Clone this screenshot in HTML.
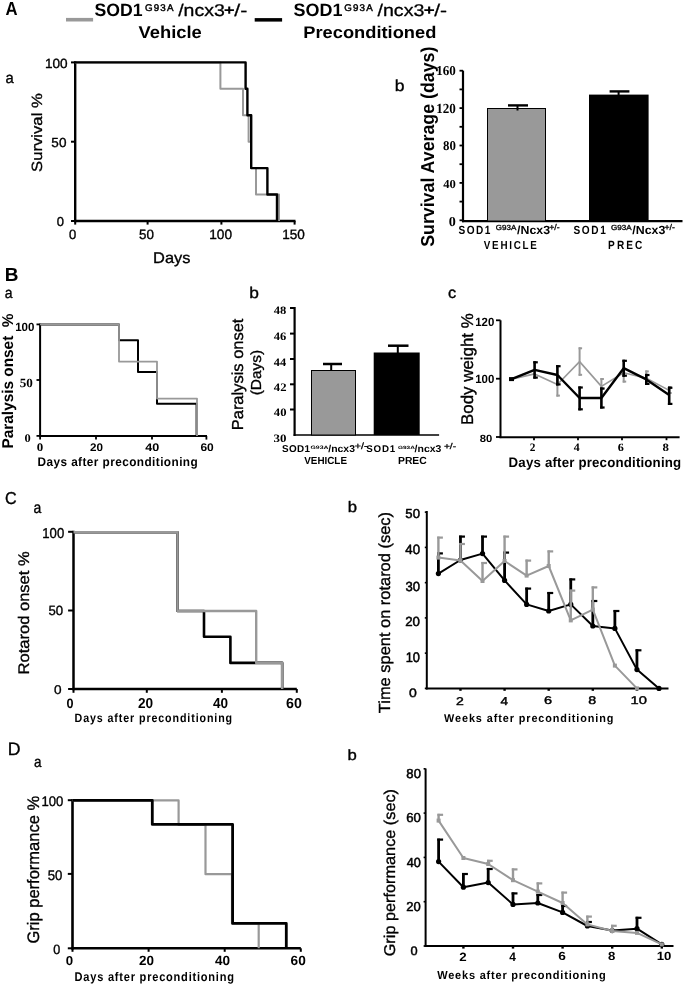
<!DOCTYPE html>
<html><head><meta charset="utf-8"><style>
html,body{margin:0;padding:0;background:#fff;}
body{width:685px;height:986px;overflow:hidden;font-family:"Liberation Sans",sans-serif;}
svg{display:block;filter:blur(0.35px);}
text{text-rendering:geometricPrecision;}
</style></head><body>
<svg width="685" height="986" viewBox="0 0 685 986">
<rect x="0" y="0" width="685" height="986" fill="#fff"/>
<text xml:space="preserve" transform="translate(5.58,14.60) scale(0.8909,1)" style="font-family:'Liberation Sans', sans-serif;font-weight:bold;font-size:18.76px" fill="#000">A</text>
<rect x="66.00" y="17.90" width="27.10" height="3.60" fill="#999999"/>
<text xml:space="preserve" transform="translate(94.57,16.42) scale(0.9846,1)" style="font-family:'Liberation Sans', sans-serif;font-weight:bold;font-size:17.95px" fill="#000">SOD1</text>
<text xml:space="preserve" transform="translate(144.91,10.70) scale(1.0000,1)" style="font-family:'Liberation Sans', sans-serif;font-weight:normal;font-size:9.75px;letter-spacing:1.19px;stroke:#000;stroke-width:0.45px;stroke-linejoin:round" fill="#000">G93A</text>
<text xml:space="preserve" transform="translate(178.20,16.13) scale(1.1472,1)" style="font-family:'Liberation Sans', sans-serif;font-weight:normal;font-size:17.01px;stroke:#000;stroke-width:0.31px;stroke-linejoin:round" fill="#000">/ncx3</text>
<text xml:space="preserve" transform="translate(223.80,15.17) scale(1.2893,1)" style="font-family:'Liberation Sans', sans-serif;font-weight:bold;font-size:14.58px" fill="#000">+</text>
<text xml:space="preserve" transform="translate(234.20,16.13) scale(1.2593,1)" style="font-family:'Liberation Sans', sans-serif;font-weight:normal;font-size:17.01px;stroke:#000;stroke-width:0.28px;stroke-linejoin:round" fill="#000">/-</text>
<text xml:space="preserve" transform="translate(138.56,38.13) scale(1.0707,1)" style="font-family:'Liberation Sans', sans-serif;font-weight:bold;font-size:17.14px" fill="#000">Vehicle</text>
<rect x="254.70" y="18.10" width="27.40" height="3.50" fill="#000"/>
<text xml:space="preserve" transform="translate(293.56,16.42) scale(1.0013,1)" style="font-family:'Liberation Sans', sans-serif;font-weight:bold;font-size:17.95px" fill="#000">SOD1</text>
<text xml:space="preserve" transform="translate(344.21,10.80) scale(1.0000,1)" style="font-family:'Liberation Sans', sans-serif;font-weight:normal;font-size:9.75px;letter-spacing:1.19px;stroke:#000;stroke-width:0.45px;stroke-linejoin:round" fill="#000">G93A</text>
<text xml:space="preserve" transform="translate(377.50,16.13) scale(1.1522,1)" style="font-family:'Liberation Sans', sans-serif;font-weight:normal;font-size:17.01px;stroke:#000;stroke-width:0.30px;stroke-linejoin:round" fill="#000">/ncx3</text>
<text xml:space="preserve" transform="translate(423.48,15.17) scale(1.3305,1)" style="font-family:'Liberation Sans', sans-serif;font-weight:bold;font-size:14.58px" fill="#000">+</text>
<text xml:space="preserve" transform="translate(434.20,16.13) scale(1.2384,1)" style="font-family:'Liberation Sans', sans-serif;font-weight:normal;font-size:17.01px;stroke:#000;stroke-width:0.28px;stroke-linejoin:round" fill="#000">/-</text>
<text xml:space="preserve" transform="translate(303.27,38.43) scale(1.0843,1)" style="font-family:'Liberation Sans', sans-serif;font-weight:bold;font-size:16.87px" fill="#000">Preconditioned</text>
<text xml:space="preserve" transform="translate(5.47,82.65) scale(0.9666,1)" style="font-family:'Liberation Sans', sans-serif;font-weight:normal;font-size:15.34px;stroke:#000;stroke-width:0.36px;stroke-linejoin:round" fill="#000">a</text>
<line x1="75.20" y1="61.20" x2="75.20" y2="222.20" stroke="#000" stroke-width="2.40"/>
<line x1="74.00" y1="221.00" x2="295.50" y2="221.00" stroke="#000" stroke-width="2.40"/>
<line x1="71.00" y1="62.40" x2="75.20" y2="62.40" stroke="#000" stroke-width="2.00"/>
<line x1="71.00" y1="141.70" x2="75.20" y2="141.70" stroke="#000" stroke-width="2.00"/>
<line x1="71.00" y1="221.00" x2="75.20" y2="221.00" stroke="#000" stroke-width="2.00"/>
<line x1="75.20" y1="221.00" x2="75.20" y2="224.60" stroke="#000" stroke-width="2.00"/>
<line x1="147.60" y1="221.00" x2="147.60" y2="224.60" stroke="#000" stroke-width="2.00"/>
<line x1="221.40" y1="221.00" x2="221.40" y2="224.60" stroke="#000" stroke-width="2.00"/>
<line x1="294.60" y1="221.00" x2="294.60" y2="224.60" stroke="#000" stroke-width="2.00"/>
<text xml:space="preserve" transform="translate(44.88,68.07) scale(1.0213,1)" style="font-family:'Liberation Sans', sans-serif;font-weight:normal;font-size:13.29px;stroke:#000;stroke-width:0.34px;stroke-linejoin:round" fill="#000">100</text>
<text xml:space="preserve" transform="translate(51.36,146.57) scale(1.0315,1)" style="font-family:'Liberation Sans', sans-serif;font-weight:normal;font-size:13.14px;stroke:#000;stroke-width:0.34px;stroke-linejoin:round" fill="#000">50</text>
<text xml:space="preserve" transform="translate(56.78,226.17) scale(1.0095,1)" style="font-family:'Liberation Sans', sans-serif;font-weight:normal;font-size:12.86px;stroke:#000;stroke-width:0.35px;stroke-linejoin:round" fill="#000">0</text>
<text xml:space="preserve" transform="translate(68.88,239.07) scale(0.9670,1)" style="font-family:'Liberation Sans', sans-serif;font-weight:normal;font-size:13.43px;stroke:#000;stroke-width:0.36px;stroke-linejoin:round" fill="#000">0</text>
<text xml:space="preserve" transform="translate(138.97,239.17) scale(0.9954,1)" style="font-family:'Liberation Sans', sans-serif;font-weight:normal;font-size:13.43px;stroke:#000;stroke-width:0.35px;stroke-linejoin:round" fill="#000">50</text>
<text xml:space="preserve" transform="translate(209.17,239.16) scale(1.0095,1)" style="font-family:'Liberation Sans', sans-serif;font-weight:normal;font-size:13.57px;stroke:#000;stroke-width:0.35px;stroke-linejoin:round" fill="#000">100</text>
<text xml:space="preserve" transform="translate(282.18,239.16) scale(1.0000,1)" style="font-family:'Liberation Sans', sans-serif;font-weight:normal;font-size:13.57px;stroke:#000;stroke-width:0.35px;stroke-linejoin:round" fill="#000">150</text>
<text xml:space="preserve" transform="translate(153.04,262.80) scale(1.0601,1)" style="font-family:'Liberation Sans', sans-serif;font-weight:normal;font-size:15.50px;stroke:#000;stroke-width:0.33px;stroke-linejoin:round" fill="#000">Days</text>
<text xml:space="preserve" transform="translate(42.45,171.95) rotate(-90) scale(1.1242,1)" style="font-family:'Liberation Sans', sans-serif;font-weight:normal;font-size:14.83px;stroke:#000;stroke-width:0.31px;stroke-linejoin:round" fill="#000">Survival %</text>
<path d="M75.00,62.40 L220.40,62.40 L220.40,88.80 L243.00,88.80 L243.00,115.30 L248.60,115.30 L248.60,141.70 L251.00,141.70 L251.00,168.10 L256.00,168.10 L256.00,194.50 L279.00,194.50 L279.00,221.00" fill="none" stroke="#999999" stroke-width="2.00" stroke-linejoin="round" stroke-linecap="butt"/>
<path d="M75.00,62.40 L245.60,62.40 L245.60,88.80 L247.40,88.80 L247.40,115.30 L251.20,115.30 L251.20,168.10 L267.40,168.10 L267.40,194.50 L277.00,194.50 L277.00,221.00" fill="none" stroke="#000" stroke-width="2.40" stroke-linejoin="round" stroke-linecap="butt"/>
<text xml:space="preserve" transform="translate(394.66,90.64) scale(1.1028,1)" style="font-family:'Liberation Sans', sans-serif;font-weight:normal;font-size:15.92px;stroke:#000;stroke-width:0.36px;stroke-linejoin:round" fill="#000">b</text>
<text xml:space="preserve" transform="translate(433.50,246.83) rotate(-90) scale(0.9502,1)" style="font-family:'Liberation Sans', sans-serif;font-weight:bold;font-size:18.72px" fill="#000">Survival Average (days)</text>
<line x1="463.00" y1="70.60" x2="463.00" y2="222.20" stroke="#000" stroke-width="2.20"/>
<line x1="462.00" y1="221.10" x2="682.50" y2="221.10" stroke="#000" stroke-width="2.20"/>
<line x1="459.50" y1="220.30" x2="463.00" y2="220.30" stroke="#000" stroke-width="1.80"/>
<line x1="459.50" y1="201.60" x2="463.00" y2="201.60" stroke="#000" stroke-width="1.80"/>
<line x1="459.50" y1="182.90" x2="463.00" y2="182.90" stroke="#000" stroke-width="1.80"/>
<line x1="459.50" y1="164.20" x2="463.00" y2="164.20" stroke="#000" stroke-width="1.80"/>
<line x1="459.50" y1="145.50" x2="463.00" y2="145.50" stroke="#000" stroke-width="1.80"/>
<line x1="459.50" y1="126.80" x2="463.00" y2="126.80" stroke="#000" stroke-width="1.80"/>
<line x1="459.50" y1="108.10" x2="463.00" y2="108.10" stroke="#000" stroke-width="1.80"/>
<line x1="459.50" y1="89.40" x2="463.00" y2="89.40" stroke="#000" stroke-width="1.80"/>
<line x1="459.50" y1="70.70" x2="463.00" y2="70.70" stroke="#000" stroke-width="1.80"/>
<text xml:space="preserve" transform="translate(436.25,75.37) scale(0.9711,1)" style="font-family:'Liberation Serif', serif;font-weight:bold;font-size:13.48px" fill="#000">160</text>
<text xml:space="preserve" transform="translate(436.25,113.26) scale(0.9401,1)" style="font-family:'Liberation Serif', serif;font-weight:bold;font-size:13.93px" fill="#000">120</text>
<text xml:space="preserve" transform="translate(442.98,150.37) scale(0.9571,1)" style="font-family:'Liberation Serif', serif;font-weight:bold;font-size:13.48px" fill="#000">80</text>
<text xml:space="preserve" transform="translate(443.24,188.28) scale(1.0398,1)" style="font-family:'Liberation Serif', serif;font-weight:bold;font-size:12.15px" fill="#000">40</text>
<text xml:space="preserve" transform="translate(448.87,225.76) scale(1.0358,1)" style="font-family:'Liberation Serif', serif;font-weight:bold;font-size:13.63px" fill="#000">0</text>
<rect x="487.50" y="108.50" width="58.00" height="112.50" fill="#999999" stroke="#000" stroke-width="1.00"/>
<line x1="508.00" y1="105.40" x2="528.00" y2="105.40" stroke="#000" stroke-width="2.40"/>
<line x1="517.50" y1="105.40" x2="517.50" y2="110.50" stroke="#000" stroke-width="2.00"/>
<rect x="589.00" y="94.60" width="59.60" height="126.40" fill="#000"/>
<line x1="609.60" y1="91.40" x2="629.40" y2="91.40" stroke="#000" stroke-width="2.40"/>
<line x1="618.60" y1="91.40" x2="618.60" y2="95.00" stroke="#000" stroke-width="2.00"/>
<text xml:space="preserve" transform="translate(458.60,233.88) scale(0.8500,1)" style="font-family:'Liberation Sans', sans-serif;font-weight:bold;font-size:11.87px;letter-spacing:1.65px" fill="#000">SOD1</text>
<text xml:space="preserve" transform="translate(495.80,229.53) scale(1.0917,1)" style="font-family:'Liberation Sans', sans-serif;font-weight:normal;font-size:7.35px;stroke:#000;stroke-width:0.32px;stroke-linejoin:round" fill="#000">G93A</text>
<text xml:space="preserve" transform="translate(517.08,233.76) scale(1.0459,1)" style="font-family:'Liberation Sans', sans-serif;font-weight:bold;font-size:11.81px" fill="#000">/Ncx3</text>
<text xml:space="preserve" transform="translate(549.16,230.42) scale(1.0516,1)" style="font-family:'Liberation Sans', sans-serif;font-weight:normal;font-size:8.30px;stroke:#000;stroke-width:0.33px;stroke-linejoin:round" fill="#000">+/-</text>
<text xml:space="preserve" transform="translate(483.83,248.78) scale(0.8500,1)" style="font-family:'Liberation Sans', sans-serif;font-weight:bold;font-size:11.59px;letter-spacing:2.03px" fill="#000">VEHICLE</text>
<text xml:space="preserve" transform="translate(573.50,233.88) scale(0.8500,1)" style="font-family:'Liberation Sans', sans-serif;font-weight:bold;font-size:11.87px;letter-spacing:1.92px" fill="#000">SOD1</text>
<text xml:space="preserve" transform="translate(611.00,229.53) scale(1.0972,1)" style="font-family:'Liberation Sans', sans-serif;font-weight:normal;font-size:7.35px;stroke:#000;stroke-width:0.32px;stroke-linejoin:round" fill="#000">G93A</text>
<text xml:space="preserve" transform="translate(632.28,233.76) scale(1.0492,1)" style="font-family:'Liberation Sans', sans-serif;font-weight:bold;font-size:11.81px" fill="#000">/Ncx3</text>
<text xml:space="preserve" transform="translate(664.46,230.42) scale(1.0516,1)" style="font-family:'Liberation Sans', sans-serif;font-weight:normal;font-size:8.30px;stroke:#000;stroke-width:0.33px;stroke-linejoin:round" fill="#000">+/-</text>
<text xml:space="preserve" transform="translate(608.12,249.28) scale(0.8500,1)" style="font-family:'Liberation Sans', sans-serif;font-weight:bold;font-size:11.87px;letter-spacing:2.44px" fill="#000">PREC</text>
<text xml:space="preserve" transform="translate(4.82,280.80) scale(0.9980,1)" style="font-family:'Liberation Sans', sans-serif;font-weight:bold;font-size:19.05px" fill="#000">B</text>
<text xml:space="preserve" transform="translate(4.70,298.25) scale(0.9157,1)" style="font-family:'Liberation Sans', sans-serif;font-weight:normal;font-size:15.34px;stroke:#000;stroke-width:0.33px;stroke-linejoin:round" fill="#000">a</text>
<text xml:space="preserve" transform="translate(12.80,448.44) rotate(-90) scale(0.9831,1)" style="font-family:'Liberation Sans', sans-serif;font-weight:bold;font-size:15.64px" fill="#000">Paralysis onset  %</text>
<line x1="40.10" y1="323.60" x2="40.10" y2="436.80" stroke="#000" stroke-width="2.00"/>
<line x1="39.10" y1="435.90" x2="207.00" y2="435.90" stroke="#000" stroke-width="2.00"/>
<line x1="36.50" y1="324.40" x2="40.10" y2="324.40" stroke="#000" stroke-width="1.80"/>
<line x1="36.50" y1="380.00" x2="40.10" y2="380.00" stroke="#000" stroke-width="1.80"/>
<line x1="36.50" y1="435.90" x2="40.10" y2="435.90" stroke="#000" stroke-width="1.80"/>
<line x1="40.10" y1="435.90" x2="40.10" y2="439.60" stroke="#000" stroke-width="1.80"/>
<line x1="96.00" y1="435.90" x2="96.00" y2="439.60" stroke="#000" stroke-width="1.80"/>
<line x1="152.00" y1="435.90" x2="152.00" y2="439.60" stroke="#000" stroke-width="1.80"/>
<line x1="206.40" y1="435.90" x2="206.40" y2="439.60" stroke="#000" stroke-width="1.80"/>
<text xml:space="preserve" transform="translate(15.18,330.68) scale(0.9741,1)" style="font-family:'Liberation Sans', sans-serif;font-weight:bold;font-size:11.87px" fill="#000">100</text>
<text xml:space="preserve" transform="translate(19.68,386.58) scale(1.0540,1)" style="font-family:'Liberation Serif', serif;font-weight:bold;font-size:12.44px" fill="#000">50</text>
<text xml:space="preserve" transform="translate(24.43,442.18) scale(1.0522,1)" style="font-family:'Liberation Serif', serif;font-weight:bold;font-size:11.85px" fill="#000">0</text>
<text xml:space="preserve" transform="translate(36.71,451.38) scale(1.1199,1)" style="font-family:'Liberation Serif', serif;font-weight:bold;font-size:11.56px" fill="#000">0</text>
<text xml:space="preserve" transform="translate(89.99,451.39) scale(1.0604,1)" style="font-family:'Liberation Sans', sans-serif;font-weight:bold;font-size:11.02px" fill="#000">20</text>
<text xml:space="preserve" transform="translate(145.21,451.39) scale(1.1435,1)" style="font-family:'Liberation Sans', sans-serif;font-weight:bold;font-size:11.02px" fill="#000">40</text>
<text xml:space="preserve" transform="translate(200.45,451.39) scale(1.0893,1)" style="font-family:'Liberation Sans', sans-serif;font-weight:bold;font-size:11.02px" fill="#000">60</text>
<text xml:space="preserve" transform="translate(37.50,465.50) scale(0.9500,1)" style="font-family:'Liberation Sans', sans-serif;font-weight:bold;font-size:12.43px;letter-spacing:0.45px" fill="#000">Days after preconditioning</text>
<path d="M40.00,324.40 L119.00,324.40 L119.00,340.30 L138.00,340.30 L138.00,372.00 L157.00,372.00 L157.00,403.80 L196.60,403.80 L196.60,435.90" fill="none" stroke="#000" stroke-width="2.00" stroke-linejoin="round" stroke-linecap="butt"/>
<path d="M40.00,324.40 L119.00,324.40 L119.00,361.60 L157.00,361.60 L157.00,398.60 L197.00,398.60 L197.00,435.90" fill="none" stroke="#999999" stroke-width="1.80" stroke-linejoin="round" stroke-linecap="butt"/>
<text xml:space="preserve" transform="translate(249.37,298.04) scale(1.1175,1)" style="font-family:'Liberation Sans', sans-serif;font-weight:normal;font-size:15.51px;stroke:#000;stroke-width:0.36px;stroke-linejoin:round" fill="#000">b</text>
<text xml:space="preserve" transform="translate(242.90,430.26) rotate(-90) scale(1.0355,1)" style="font-family:'Liberation Sans', sans-serif;font-weight:normal;font-size:15.92px;stroke:#000;stroke-width:0.34px;stroke-linejoin:round" fill="#000">Paralysis onset</text>
<text xml:space="preserve" transform="translate(261.30,395.36) rotate(-90) scale(1.0620,1)" style="font-family:'Liberation Sans', sans-serif;font-weight:normal;font-size:14.53px;stroke:#000;stroke-width:0.33px;stroke-linejoin:round" fill="#000">(Days)</text>
<line x1="294.60" y1="307.00" x2="294.60" y2="436.00" stroke="#000" stroke-width="2.20"/>
<line x1="293.60" y1="435.00" x2="439.10" y2="435.00" stroke="#000" stroke-width="1.60"/>
<line x1="290.00" y1="308.00" x2="294.60" y2="308.00" stroke="#000" stroke-width="2.00"/>
<line x1="290.00" y1="333.60" x2="294.60" y2="333.60" stroke="#000" stroke-width="2.00"/>
<line x1="290.00" y1="359.00" x2="294.60" y2="359.00" stroke="#000" stroke-width="2.00"/>
<line x1="290.00" y1="384.30" x2="294.60" y2="384.30" stroke="#000" stroke-width="2.00"/>
<line x1="290.00" y1="409.50" x2="294.60" y2="409.50" stroke="#000" stroke-width="2.00"/>
<text xml:space="preserve" transform="translate(273.84,314.49) scale(1.1160,1)" style="font-family:'Liberation Serif', serif;font-weight:bold;font-size:11.26px" fill="#000">48</text>
<text xml:space="preserve" transform="translate(273.84,340.09) scale(1.1090,1)" style="font-family:'Liberation Serif', serif;font-weight:bold;font-size:11.30px" fill="#000">46</text>
<text xml:space="preserve" transform="translate(273.85,365.60) scale(1.0703,1)" style="font-family:'Liberation Serif', serif;font-weight:bold;font-size:11.56px" fill="#000">44</text>
<text xml:space="preserve" transform="translate(273.84,390.90) scale(1.1069,1)" style="font-family:'Liberation Serif', serif;font-weight:bold;font-size:11.47px" fill="#000">42</text>
<text xml:space="preserve" transform="translate(273.84,416.09) scale(1.1219,1)" style="font-family:'Liberation Serif', serif;font-weight:bold;font-size:11.26px" fill="#000">40</text>
<text xml:space="preserve" transform="translate(273.51,441.69) scale(1.1522,1)" style="font-family:'Liberation Serif', serif;font-weight:bold;font-size:11.26px" fill="#000">30</text>
<rect x="311.50" y="370.50" width="44.00" height="64.50" fill="#999999" stroke="#000" stroke-width="1.00"/>
<line x1="323.00" y1="364.00" x2="342.00" y2="364.00" stroke="#000" stroke-width="2.50"/>
<line x1="331.20" y1="364.00" x2="331.20" y2="370.50" stroke="#000" stroke-width="2.00"/>
<rect x="373.70" y="352.50" width="46.00" height="82.50" fill="#000"/>
<line x1="388.00" y1="345.70" x2="408.50" y2="345.70" stroke="#000" stroke-width="2.50"/>
<line x1="397.80" y1="345.70" x2="397.80" y2="353.00" stroke="#000" stroke-width="2.00"/>
<text xml:space="preserve" transform="translate(282.10,451.90) scale(1.0000,1)" style="font-family:'Liberation Sans', sans-serif;font-weight:bold;font-size:9.89px;letter-spacing:0.34px" fill="#000">SOD1</text>
<text xml:space="preserve" transform="translate(310.52,448.74) scale(1.4029,1)" style="font-family:'Liberation Sans', sans-serif;font-weight:bold;font-size:4.93px" fill="#000">G93A</text>
<text xml:space="preserve" transform="translate(328.30,451.80) scale(1.0509,1)" style="font-family:'Liberation Sans', sans-serif;font-weight:bold;font-size:9.93px" fill="#000">/ncx3</text>
<text xml:space="preserve" transform="translate(354.87,448.91) scale(1.1744,1)" style="font-family:'Liberation Sans', sans-serif;font-weight:normal;font-size:8.98px;stroke:#000;stroke-width:0.30px;stroke-linejoin:round" fill="#000">+/-</text>
<text xml:space="preserve" transform="translate(304.23,464.20) scale(0.9562,1)" style="font-family:'Liberation Sans', sans-serif;font-weight:bold;font-size:10.32px" fill="#000">VEHICLE</text>
<text xml:space="preserve" transform="translate(366.31,452.10) scale(1.0000,1)" style="font-family:'Liberation Sans', sans-serif;font-weight:bold;font-size:9.75px;letter-spacing:0.80px" fill="#000">SOD1</text>
<text xml:space="preserve" transform="translate(397.94,448.74) scale(1.3949,1)" style="font-family:'Liberation Sans', sans-serif;font-weight:bold;font-size:4.65px" fill="#000">G93A</text>
<text xml:space="preserve" transform="translate(414.60,451.80) scale(1.0549,1)" style="font-family:'Liberation Sans', sans-serif;font-weight:bold;font-size:9.93px" fill="#000">/ncx3</text>
<text xml:space="preserve" transform="translate(443.89,448.92) scale(1.2070,1)" style="font-family:'Liberation Sans', sans-serif;font-weight:normal;font-size:8.44px;stroke:#000;stroke-width:0.29px;stroke-linejoin:round" fill="#000">+/-</text>
<text xml:space="preserve" transform="translate(398.00,464.20) scale(1.0000,1)" style="font-family:'Liberation Sans', sans-serif;font-weight:bold;font-size:10.32px;letter-spacing:0.01px" fill="#000">PREC</text>
<text xml:space="preserve" transform="translate(448.11,298.04) scale(1.0364,1)" style="font-family:'Liberation Sans', sans-serif;font-weight:normal;font-size:15.71px;stroke:#000;stroke-width:0.39px;stroke-linejoin:round" fill="#000">c</text>
<text xml:space="preserve" transform="translate(473.20,424.89) rotate(-90) scale(0.9985,1)" style="font-family:'Liberation Sans', sans-serif;font-weight:normal;font-size:16.90px;stroke:#000;stroke-width:0.35px;stroke-linejoin:round" fill="#000">Body weight %</text>
<line x1="500.50" y1="320.30" x2="500.50" y2="438.10" stroke="#000" stroke-width="2.00"/>
<line x1="499.50" y1="437.20" x2="679.60" y2="437.20" stroke="#000" stroke-width="2.00"/>
<line x1="496.00" y1="320.30" x2="500.50" y2="320.30" stroke="#000" stroke-width="1.80"/>
<line x1="496.00" y1="378.70" x2="500.50" y2="378.70" stroke="#000" stroke-width="1.80"/>
<line x1="496.00" y1="437.00" x2="500.50" y2="437.00" stroke="#000" stroke-width="1.80"/>
<line x1="534.00" y1="437.20" x2="534.00" y2="440.20" stroke="#000" stroke-width="1.80"/>
<line x1="578.00" y1="437.20" x2="578.00" y2="440.20" stroke="#000" stroke-width="1.80"/>
<line x1="622.00" y1="437.20" x2="622.00" y2="440.20" stroke="#000" stroke-width="1.80"/>
<line x1="666.50" y1="437.20" x2="666.50" y2="440.20" stroke="#000" stroke-width="1.80"/>
<text xml:space="preserve" transform="translate(475.19,325.68) scale(0.9634,1)" style="font-family:'Liberation Sans', sans-serif;font-weight:bold;font-size:11.87px" fill="#000">120</text>
<text xml:space="preserve" transform="translate(475.19,383.48) scale(0.9634,1)" style="font-family:'Liberation Sans', sans-serif;font-weight:bold;font-size:11.87px" fill="#000">100</text>
<text xml:space="preserve" transform="translate(479.73,442.00) scale(1.0782,1)" style="font-family:'Liberation Sans', sans-serif;font-weight:bold;font-size:10.46px" fill="#000">80</text>
<text xml:space="preserve" transform="translate(529.72,451.40) scale(1.0004,1)" style="font-family:'Liberation Serif', serif;font-weight:bold;font-size:11.32px" fill="#000">2</text>
<text xml:space="preserve" transform="translate(573.65,451.40) scale(1.0445,1)" style="font-family:'Liberation Serif', serif;font-weight:bold;font-size:11.41px" fill="#000">4</text>
<text xml:space="preserve" transform="translate(617.77,451.29) scale(1.0925,1)" style="font-family:'Liberation Serif', serif;font-weight:bold;font-size:11.15px" fill="#000">6</text>
<text xml:space="preserve" transform="translate(662.58,451.29) scale(1.1586,1)" style="font-family:'Liberation Serif', serif;font-weight:bold;font-size:11.11px" fill="#000">8</text>
<text xml:space="preserve" transform="translate(508.60,467.20) scale(0.9700,1)" style="font-family:'Liberation Sans', sans-serif;font-weight:bold;font-size:13.69px;letter-spacing:0.18px" fill="#000">Days after preconditioning</text>
<path d="M511.50,379.10 L534.60,373.90 L557.40,384.50 L579.60,361.60 L601.40,386.40 L623.70,372.80 L646.30,378.20 L669.20,390.40" fill="none" stroke="#999999" stroke-width="1.60" stroke-linejoin="round" stroke-linecap="butt"/>
<line x1="557.40" y1="375.00" x2="557.40" y2="396.60" stroke="#999999" stroke-width="2.00"/>
<line x1="556.40" y1="376.00" x2="559.90" y2="376.00" stroke="#999999" stroke-width="2.00"/>
<line x1="556.40" y1="395.60" x2="559.90" y2="395.60" stroke="#999999" stroke-width="2.00"/>
<line x1="579.60" y1="347.30" x2="579.60" y2="375.80" stroke="#999999" stroke-width="2.00"/>
<line x1="578.60" y1="348.30" x2="582.10" y2="348.30" stroke="#999999" stroke-width="2.00"/>
<line x1="578.60" y1="374.80" x2="582.10" y2="374.80" stroke="#999999" stroke-width="2.00"/>
<line x1="601.40" y1="378.00" x2="601.40" y2="390.00" stroke="#999999" stroke-width="2.00"/>
<line x1="600.40" y1="379.00" x2="603.90" y2="379.00" stroke="#999999" stroke-width="2.00"/>
<line x1="600.40" y1="389.00" x2="603.90" y2="389.00" stroke="#999999" stroke-width="2.00"/>
<line x1="623.70" y1="368.00" x2="623.70" y2="382.60" stroke="#999999" stroke-width="2.00"/>
<line x1="622.70" y1="369.00" x2="626.20" y2="369.00" stroke="#999999" stroke-width="2.00"/>
<line x1="622.70" y1="381.60" x2="626.20" y2="381.60" stroke="#999999" stroke-width="2.00"/>
<line x1="646.30" y1="370.40" x2="646.30" y2="382.00" stroke="#999999" stroke-width="2.00"/>
<line x1="645.30" y1="371.40" x2="648.80" y2="371.40" stroke="#999999" stroke-width="2.00"/>
<line x1="645.30" y1="381.00" x2="648.80" y2="381.00" stroke="#999999" stroke-width="2.00"/>
<line x1="669.20" y1="386.00" x2="669.20" y2="394.00" stroke="#999999" stroke-width="2.00"/>
<line x1="668.20" y1="387.00" x2="671.70" y2="387.00" stroke="#999999" stroke-width="2.00"/>
<line x1="668.20" y1="393.00" x2="671.70" y2="393.00" stroke="#999999" stroke-width="2.00"/>
<path d="M511.50,379.10 L534.60,369.80 L557.40,375.00 L579.60,398.00 L601.40,398.00 L623.70,368.20 L646.30,379.40 L669.20,395.00" fill="none" stroke="#000" stroke-width="2.40" stroke-linejoin="round" stroke-linecap="butt"/>
<line x1="534.60" y1="361.20" x2="534.60" y2="378.70" stroke="#000" stroke-width="2.60"/>
<line x1="533.30" y1="362.30" x2="537.80" y2="362.30" stroke="#000" stroke-width="2.20"/>
<line x1="533.30" y1="377.60" x2="537.80" y2="377.60" stroke="#000" stroke-width="2.20"/>
<line x1="557.40" y1="365.10" x2="557.40" y2="385.50" stroke="#000" stroke-width="2.60"/>
<line x1="556.10" y1="366.20" x2="560.60" y2="366.20" stroke="#000" stroke-width="2.20"/>
<line x1="556.10" y1="384.40" x2="560.60" y2="384.40" stroke="#000" stroke-width="2.20"/>
<line x1="579.60" y1="386.40" x2="579.60" y2="410.40" stroke="#000" stroke-width="2.60"/>
<line x1="578.30" y1="387.50" x2="582.80" y2="387.50" stroke="#000" stroke-width="2.20"/>
<line x1="578.30" y1="409.30" x2="582.80" y2="409.30" stroke="#000" stroke-width="2.20"/>
<line x1="601.40" y1="387.40" x2="601.40" y2="408.60" stroke="#000" stroke-width="2.60"/>
<line x1="600.10" y1="388.50" x2="604.60" y2="388.50" stroke="#000" stroke-width="2.20"/>
<line x1="600.10" y1="407.50" x2="604.60" y2="407.50" stroke="#000" stroke-width="2.20"/>
<line x1="623.70" y1="359.70" x2="623.70" y2="376.80" stroke="#000" stroke-width="2.60"/>
<line x1="622.40" y1="360.80" x2="626.90" y2="360.80" stroke="#000" stroke-width="2.20"/>
<line x1="622.40" y1="375.70" x2="626.90" y2="375.70" stroke="#000" stroke-width="2.20"/>
<line x1="646.30" y1="373.90" x2="646.30" y2="385.00" stroke="#000" stroke-width="2.60"/>
<line x1="645.00" y1="375.00" x2="649.50" y2="375.00" stroke="#000" stroke-width="2.20"/>
<line x1="645.00" y1="383.90" x2="649.50" y2="383.90" stroke="#000" stroke-width="2.20"/>
<line x1="669.20" y1="386.70" x2="669.20" y2="405.00" stroke="#000" stroke-width="2.60"/>
<line x1="667.90" y1="387.80" x2="672.40" y2="387.80" stroke="#000" stroke-width="2.20"/>
<line x1="667.90" y1="403.90" x2="672.40" y2="403.90" stroke="#000" stroke-width="2.20"/>
<rect x="509.00" y="377.10" width="5.00" height="4.00" fill="#000"/>
<text xml:space="preserve" transform="translate(5.09,503.83) scale(0.9352,1)" style="font-family:'Liberation Sans', sans-serif;font-weight:normal;font-size:17.24px;stroke:#000;stroke-width:0.37px;stroke-linejoin:round" fill="#000">C</text>
<text xml:space="preserve" transform="translate(33.60,513.44) scale(0.8741,1)" style="font-family:'Liberation Sans', sans-serif;font-weight:normal;font-size:16.07px;stroke:#000;stroke-width:0.34px;stroke-linejoin:round" fill="#000">a</text>
<text xml:space="preserve" transform="translate(29.35,674.47) rotate(-90) scale(1.0764,1)" style="font-family:'Liberation Sans', sans-serif;font-weight:normal;font-size:15.37px;stroke:#000;stroke-width:0.33px;stroke-linejoin:round" fill="#000">Rotarod onset %</text>
<line x1="73.50" y1="530.80" x2="73.50" y2="690.20" stroke="#000" stroke-width="2.50"/>
<line x1="72.50" y1="689.00" x2="296.80" y2="689.00" stroke="#000" stroke-width="2.40"/>
<line x1="68.10" y1="531.80" x2="73.50" y2="531.80" stroke="#000" stroke-width="2.00"/>
<line x1="68.10" y1="610.50" x2="73.50" y2="610.50" stroke="#000" stroke-width="2.00"/>
<line x1="68.10" y1="689.00" x2="73.50" y2="689.00" stroke="#000" stroke-width="2.00"/>
<line x1="73.50" y1="689.00" x2="73.50" y2="692.80" stroke="#000" stroke-width="2.00"/>
<line x1="146.80" y1="689.00" x2="146.80" y2="692.80" stroke="#000" stroke-width="2.00"/>
<line x1="221.90" y1="689.00" x2="221.90" y2="692.80" stroke="#000" stroke-width="2.00"/>
<line x1="296.80" y1="689.00" x2="296.80" y2="692.80" stroke="#000" stroke-width="2.00"/>
<text xml:space="preserve" transform="translate(42.32,538.16) scale(0.9190,1)" style="font-family:'Liberation Sans', sans-serif;font-weight:normal;font-size:14.28px;stroke:#000;stroke-width:0.38px;stroke-linejoin:round" fill="#000">100</text>
<text xml:space="preserve" transform="translate(48.47,615.47) scale(0.9914,1)" style="font-family:'Liberation Sans', sans-serif;font-weight:normal;font-size:13.29px;stroke:#000;stroke-width:0.35px;stroke-linejoin:round" fill="#000">50</text>
<text xml:space="preserve" transform="translate(53.96,694.17) scale(1.0821,1)" style="font-family:'Liberation Sans', sans-serif;font-weight:normal;font-size:12.58px;stroke:#000;stroke-width:0.32px;stroke-linejoin:round" fill="#000">0</text>
<text xml:space="preserve" transform="translate(66.59,708.06) scale(0.9213,1)" style="font-family:'Liberation Sans', sans-serif;font-weight:bold;font-size:13.71px" fill="#000">0</text>
<text xml:space="preserve" transform="translate(137.92,708.26) scale(0.9449,1)" style="font-family:'Liberation Sans', sans-serif;font-weight:bold;font-size:14.42px" fill="#000">20</text>
<text xml:space="preserve" transform="translate(213.00,708.26) scale(0.9402,1)" style="font-family:'Liberation Sans', sans-serif;font-weight:bold;font-size:14.42px" fill="#000">40</text>
<text xml:space="preserve" transform="translate(286.07,708.26) scale(0.9875,1)" style="font-family:'Liberation Sans', sans-serif;font-weight:bold;font-size:14.42px" fill="#000">60</text>
<text xml:space="preserve" transform="translate(74.58,721.90) scale(0.8800,1)" style="font-family:'Liberation Sans', sans-serif;font-weight:bold;font-size:12.15px;letter-spacing:1.01px" fill="#000">Days after preconditioning</text>
<path d="M73.50,532.20 L177.50,532.20 L177.50,611.00 L204.00,611.00 L204.00,636.80 L230.40,636.80 L230.40,662.90 L282.20,662.90 L282.20,689.00" fill="none" stroke="#000" stroke-width="2.60" stroke-linejoin="round" stroke-linecap="butt"/>
<path d="M73.50,532.20 L177.50,532.20 L177.50,611.00 L256.20,611.00 L256.20,662.90 L282.20,662.90 L282.20,689.00" fill="none" stroke="#999999" stroke-width="2.40" stroke-linejoin="round" stroke-linecap="butt"/>
<text xml:space="preserve" transform="translate(347.72,512.25) scale(1.0938,1)" style="font-family:'Liberation Sans', sans-serif;font-weight:normal;font-size:15.24px;stroke:#000;stroke-width:0.37px;stroke-linejoin:round" fill="#000">b</text>
<text xml:space="preserve" transform="translate(390.20,713.17) rotate(-90) scale(1.0235,1)" style="font-family:'Liberation Sans', sans-serif;font-weight:normal;font-size:16.06px;stroke:#000;stroke-width:0.34px;stroke-linejoin:round" fill="#000">Time spent on rotarod (sec)</text>
<line x1="426.80" y1="511.00" x2="426.80" y2="689.40" stroke="#000" stroke-width="2.00"/>
<line x1="425.80" y1="688.40" x2="668.50" y2="688.40" stroke="#000" stroke-width="2.00"/>
<line x1="424.80" y1="688.40" x2="426.80" y2="688.40" stroke="#000" stroke-width="1.60"/>
<line x1="424.80" y1="653.15" x2="426.80" y2="653.15" stroke="#000" stroke-width="1.60"/>
<line x1="424.80" y1="617.90" x2="426.80" y2="617.90" stroke="#000" stroke-width="1.60"/>
<line x1="424.80" y1="582.65" x2="426.80" y2="582.65" stroke="#000" stroke-width="1.60"/>
<line x1="424.80" y1="547.40" x2="426.80" y2="547.40" stroke="#000" stroke-width="1.60"/>
<line x1="424.80" y1="512.15" x2="426.80" y2="512.15" stroke="#000" stroke-width="1.60"/>
<text xml:space="preserve" transform="translate(405.37,518.37) scale(1.0129,1)" style="font-family:'Liberation Sans', sans-serif;font-weight:normal;font-size:13.00px;stroke:#000;stroke-width:0.49px;stroke-linejoin:round" fill="#000">50</text>
<text xml:space="preserve" transform="translate(405.30,554.07) scale(0.9859,1)" style="font-family:'Liberation Sans', sans-serif;font-weight:normal;font-size:13.43px;stroke:#000;stroke-width:0.51px;stroke-linejoin:round" fill="#000">40</text>
<text xml:space="preserve" transform="translate(405.41,590.67) scale(0.9996,1)" style="font-family:'Liberation Sans', sans-serif;font-weight:normal;font-size:13.14px;stroke:#000;stroke-width:0.50px;stroke-linejoin:round" fill="#000">30</text>
<text xml:space="preserve" transform="translate(405.23,626.07) scale(1.0119,1)" style="font-family:'Liberation Sans', sans-serif;font-weight:normal;font-size:13.14px;stroke:#000;stroke-width:0.49px;stroke-linejoin:round" fill="#000">20</text>
<text xml:space="preserve" transform="translate(405.74,662.06) scale(0.9264,1)" style="font-family:'Liberation Sans', sans-serif;font-weight:normal;font-size:13.85px;stroke:#000;stroke-width:0.54px;stroke-linejoin:round" fill="#000">10</text>
<text xml:space="preserve" transform="translate(408.94,696.88) scale(1.1543,1)" style="font-family:'Liberation Sans', sans-serif;font-weight:normal;font-size:12.16px;stroke:#000;stroke-width:0.43px;stroke-linejoin:round" fill="#000">0</text>
<line x1="460.46" y1="688.40" x2="460.46" y2="690.80" stroke="#000" stroke-width="2.40"/>
<line x1="504.58" y1="688.40" x2="504.58" y2="690.80" stroke="#000" stroke-width="2.40"/>
<line x1="548.70" y1="688.40" x2="548.70" y2="690.80" stroke="#000" stroke-width="2.40"/>
<line x1="592.82" y1="688.40" x2="592.82" y2="690.80" stroke="#000" stroke-width="2.40"/>
<line x1="636.94" y1="688.40" x2="636.94" y2="690.80" stroke="#000" stroke-width="2.40"/>
<text xml:space="preserve" transform="translate(455.90,704.60) scale(1.2419,1)" style="font-family:'Liberation Sans', sans-serif;font-weight:normal;font-size:11.33px;stroke:#000;stroke-width:0.40px;stroke-linejoin:round" fill="#000">2</text>
<text xml:space="preserve" transform="translate(500.50,704.60) scale(1.1718,1)" style="font-family:'Liberation Sans', sans-serif;font-weight:normal;font-size:11.49px;stroke:#000;stroke-width:0.43px;stroke-linejoin:round" fill="#000">4</text>
<text xml:space="preserve" transform="translate(543.88,704.49) scale(1.2974,1)" style="font-family:'Liberation Sans', sans-serif;font-weight:normal;font-size:11.17px;stroke:#000;stroke-width:0.39px;stroke-linejoin:round" fill="#000">6</text>
<text xml:space="preserve" transform="translate(588.19,704.49) scale(1.2767,1)" style="font-family:'Liberation Sans', sans-serif;font-weight:normal;font-size:11.17px;stroke:#000;stroke-width:0.39px;stroke-linejoin:round" fill="#000">8</text>
<text xml:space="preserve" transform="translate(630.59,704.49) scale(1.3198,1)" style="font-family:'Liberation Sans', sans-serif;font-weight:normal;font-size:11.17px;stroke:#000;stroke-width:0.38px;stroke-linejoin:round" fill="#000">10</text>
<text xml:space="preserve" transform="translate(444.07,722.30) scale(0.9500,1)" style="font-family:'Liberation Sans', sans-serif;font-weight:bold;font-size:11.45px;letter-spacing:0.95px" fill="#000">Weeks after preconditioning</text>
<line x1="438.40" y1="552.40" x2="438.40" y2="573.60" stroke="#000" stroke-width="2.80"/>
<line x1="437.00" y1="553.40" x2="442.90" y2="553.40" stroke="#000" stroke-width="2.20"/>
<line x1="460.46" y1="535.60" x2="460.46" y2="560.00" stroke="#000" stroke-width="2.80"/>
<line x1="459.06" y1="536.60" x2="464.96" y2="536.60" stroke="#000" stroke-width="2.20"/>
<line x1="482.52" y1="535.60" x2="482.52" y2="553.60" stroke="#000" stroke-width="2.80"/>
<line x1="481.12" y1="536.60" x2="487.02" y2="536.60" stroke="#000" stroke-width="2.20"/>
<line x1="504.58" y1="551.60" x2="504.58" y2="580.40" stroke="#000" stroke-width="2.80"/>
<line x1="503.18" y1="552.60" x2="509.08" y2="552.60" stroke="#000" stroke-width="2.20"/>
<line x1="526.64" y1="587.60" x2="526.64" y2="604.40" stroke="#000" stroke-width="2.80"/>
<line x1="525.24" y1="588.60" x2="531.14" y2="588.60" stroke="#000" stroke-width="2.20"/>
<line x1="548.70" y1="592.00" x2="548.70" y2="611.00" stroke="#000" stroke-width="2.80"/>
<line x1="547.30" y1="593.00" x2="553.20" y2="593.00" stroke="#000" stroke-width="2.20"/>
<line x1="570.76" y1="578.40" x2="570.76" y2="604.40" stroke="#000" stroke-width="2.80"/>
<line x1="569.36" y1="579.40" x2="575.26" y2="579.40" stroke="#000" stroke-width="2.20"/>
<line x1="592.82" y1="600.00" x2="592.82" y2="626.00" stroke="#000" stroke-width="2.80"/>
<line x1="591.42" y1="601.00" x2="597.32" y2="601.00" stroke="#000" stroke-width="2.20"/>
<line x1="614.88" y1="610.00" x2="614.88" y2="628.40" stroke="#000" stroke-width="2.80"/>
<line x1="613.48" y1="611.00" x2="619.38" y2="611.00" stroke="#000" stroke-width="2.20"/>
<line x1="636.94" y1="649.30" x2="636.94" y2="669.60" stroke="#000" stroke-width="2.80"/>
<line x1="635.54" y1="650.30" x2="641.44" y2="650.30" stroke="#000" stroke-width="2.20"/>
<path d="M438.40,573.60 L460.46,560.00 L482.52,553.60 L504.58,580.40 L526.64,604.40 L548.70,611.00 L570.76,604.40 L592.82,626.00 L614.88,628.40 L636.94,669.60 L659.00,688.40" fill="none" stroke="#000" stroke-width="2.00" stroke-linejoin="round" stroke-linecap="butt"/>
<circle cx="438.40" cy="573.60" r="2.6" fill="#000"/>
<circle cx="460.46" cy="560.00" r="2.6" fill="#000"/>
<circle cx="482.52" cy="553.60" r="2.6" fill="#000"/>
<circle cx="504.58" cy="580.40" r="2.6" fill="#000"/>
<circle cx="526.64" cy="604.40" r="2.6" fill="#000"/>
<circle cx="548.70" cy="611.00" r="2.6" fill="#000"/>
<circle cx="570.76" cy="604.40" r="2.6" fill="#000"/>
<circle cx="592.82" cy="626.00" r="2.6" fill="#000"/>
<circle cx="614.88" cy="628.40" r="2.6" fill="#000"/>
<circle cx="636.94" cy="669.60" r="2.6" fill="#000"/>
<circle cx="659.00" cy="688.40" r="2.6" fill="#000"/>
<line x1="438.40" y1="536.60" x2="438.40" y2="557.60" stroke="#999999" stroke-width="2.40"/>
<line x1="437.20" y1="537.60" x2="442.90" y2="537.60" stroke="#999999" stroke-width="2.20"/>
<line x1="460.46" y1="543.00" x2="460.46" y2="560.40" stroke="#999999" stroke-width="2.40"/>
<line x1="459.26" y1="544.00" x2="464.96" y2="544.00" stroke="#999999" stroke-width="2.20"/>
<line x1="482.52" y1="562.00" x2="482.52" y2="581.00" stroke="#999999" stroke-width="2.40"/>
<line x1="481.32" y1="563.00" x2="487.02" y2="563.00" stroke="#999999" stroke-width="2.20"/>
<line x1="504.58" y1="535.60" x2="504.58" y2="561.00" stroke="#999999" stroke-width="2.40"/>
<line x1="503.38" y1="536.60" x2="509.08" y2="536.60" stroke="#999999" stroke-width="2.20"/>
<line x1="526.64" y1="559.60" x2="526.64" y2="575.60" stroke="#999999" stroke-width="2.40"/>
<line x1="525.44" y1="560.60" x2="531.14" y2="560.60" stroke="#999999" stroke-width="2.20"/>
<line x1="548.70" y1="550.40" x2="548.70" y2="566.00" stroke="#999999" stroke-width="2.40"/>
<line x1="547.50" y1="551.40" x2="553.20" y2="551.40" stroke="#999999" stroke-width="2.20"/>
<line x1="570.76" y1="589.60" x2="570.76" y2="620.40" stroke="#999999" stroke-width="2.40"/>
<line x1="569.56" y1="590.60" x2="575.26" y2="590.60" stroke="#999999" stroke-width="2.20"/>
<line x1="592.82" y1="586.40" x2="592.82" y2="609.60" stroke="#999999" stroke-width="2.40"/>
<line x1="591.62" y1="587.40" x2="597.32" y2="587.40" stroke="#999999" stroke-width="2.20"/>
<path d="M438.40,557.60 L460.46,560.40 L482.52,581.00 L504.58,561.00 L526.64,575.60 L548.70,566.00 L570.76,620.40 L592.82,609.60 L614.88,665.60 L636.94,688.40" fill="none" stroke="#999999" stroke-width="2.00" stroke-linejoin="round" stroke-linecap="butt"/>
<rect x="436.40" y="555.60" width="4.00" height="4.00" fill="#999999"/>
<rect x="458.46" y="558.40" width="4.00" height="4.00" fill="#999999"/>
<rect x="480.52" y="579.00" width="4.00" height="4.00" fill="#999999"/>
<rect x="502.58" y="559.00" width="4.00" height="4.00" fill="#999999"/>
<rect x="524.64" y="573.60" width="4.00" height="4.00" fill="#999999"/>
<rect x="546.70" y="564.00" width="4.00" height="4.00" fill="#999999"/>
<rect x="568.76" y="618.40" width="4.00" height="4.00" fill="#999999"/>
<rect x="590.82" y="607.60" width="4.00" height="4.00" fill="#999999"/>
<rect x="612.88" y="663.60" width="4.00" height="4.00" fill="#999999"/>
<rect x="634.94" y="686.40" width="4.00" height="4.00" fill="#999999"/>
<text xml:space="preserve" transform="translate(7.74,755.00) scale(0.9825,1)" style="font-family:'Liberation Sans', sans-serif;font-weight:normal;font-size:18.04px;stroke:#000;stroke-width:0.36px;stroke-linejoin:round" fill="#000">D</text>
<text xml:space="preserve" transform="translate(33.93,766.74) scale(0.8672,1)" style="font-family:'Liberation Sans', sans-serif;font-weight:normal;font-size:15.53px;stroke:#000;stroke-width:0.35px;stroke-linejoin:round" fill="#000">a</text>
<text xml:space="preserve" transform="translate(39.20,943.53) rotate(-90) scale(0.9932,1)" style="font-family:'Liberation Sans', sans-serif;font-weight:normal;font-size:16.62px;stroke:#000;stroke-width:0.35px;stroke-linejoin:round" fill="#000">Grip performance %</text>
<line x1="72.50" y1="799.20" x2="72.50" y2="949.50" stroke="#000" stroke-width="2.60"/>
<line x1="71.50" y1="948.30" x2="300.80" y2="948.30" stroke="#000" stroke-width="2.60"/>
<line x1="67.80" y1="800.20" x2="72.50" y2="800.20" stroke="#000" stroke-width="2.00"/>
<line x1="67.80" y1="873.90" x2="72.50" y2="873.90" stroke="#000" stroke-width="2.00"/>
<line x1="67.80" y1="948.30" x2="72.50" y2="948.30" stroke="#000" stroke-width="2.00"/>
<line x1="72.50" y1="948.30" x2="72.50" y2="951.80" stroke="#000" stroke-width="2.00"/>
<line x1="148.60" y1="948.30" x2="148.60" y2="951.80" stroke="#000" stroke-width="2.00"/>
<line x1="224.70" y1="948.30" x2="224.70" y2="951.80" stroke="#000" stroke-width="2.00"/>
<line x1="300.80" y1="948.30" x2="300.80" y2="951.80" stroke="#000" stroke-width="2.00"/>
<text xml:space="preserve" transform="translate(41.42,806.16) scale(0.9471,1)" style="font-family:'Liberation Sans', sans-serif;font-weight:normal;font-size:13.85px;stroke:#000;stroke-width:0.37px;stroke-linejoin:round" fill="#000">100</text>
<text xml:space="preserve" transform="translate(47.67,880.06) scale(0.9509,1)" style="font-family:'Liberation Sans', sans-serif;font-weight:normal;font-size:13.85px;stroke:#000;stroke-width:0.37px;stroke-linejoin:round" fill="#000">50</text>
<text xml:space="preserve" transform="translate(53.20,954.07) scale(0.9358,1)" style="font-family:'Liberation Sans', sans-serif;font-weight:normal;font-size:13.43px;stroke:#000;stroke-width:0.37px;stroke-linejoin:round" fill="#000">0</text>
<text xml:space="preserve" transform="translate(65.77,965.37) scale(1.0200,1)" style="font-family:'Liberation Sans', sans-serif;font-weight:bold;font-size:13.00px" fill="#000">0</text>
<text xml:space="preserve" transform="translate(139.03,965.37) scale(1.0002,1)" style="font-family:'Liberation Sans', sans-serif;font-weight:bold;font-size:13.43px" fill="#000">20</text>
<text xml:space="preserve" transform="translate(215.00,965.37) scale(1.0095,1)" style="font-family:'Liberation Sans', sans-serif;font-weight:bold;font-size:13.43px" fill="#000">40</text>
<text xml:space="preserve" transform="translate(290.59,965.37) scale(1.0170,1)" style="font-family:'Liberation Sans', sans-serif;font-weight:bold;font-size:13.43px" fill="#000">60</text>
<text xml:space="preserve" transform="translate(74.55,981.00) scale(0.8800,1)" style="font-family:'Liberation Sans', sans-serif;font-weight:bold;font-size:12.57px;letter-spacing:0.88px" fill="#000">Days after preconditioning</text>
<path d="M72.50,800.40 L178.60,800.40 L178.60,825.00 L205.50,825.00 L205.50,874.20 L232.00,874.20 L232.00,923.40 L258.70,923.40 L258.70,948.30" fill="none" stroke="#999999" stroke-width="2.20" stroke-linejoin="round" stroke-linecap="butt"/>
<path d="M72.50,800.40 L152.30,800.40 L152.30,824.40 L232.60,824.40 L232.60,923.40 L286.30,923.40 L286.30,948.30" fill="none" stroke="#000" stroke-width="2.80" stroke-linejoin="round" stroke-linecap="butt"/>
<text xml:space="preserve" transform="translate(347.62,760.05) scale(1.1136,1)" style="font-family:'Liberation Sans', sans-serif;font-weight:normal;font-size:14.97px;stroke:#000;stroke-width:0.36px;stroke-linejoin:round" fill="#000">b</text>
<text xml:space="preserve" transform="translate(394.80,956.31) rotate(-90) scale(1.0418,1)" style="font-family:'Liberation Sans', sans-serif;font-weight:normal;font-size:15.64px;stroke:#000;stroke-width:0.34px;stroke-linejoin:round" fill="#000">Grip performance (sec)</text>
<line x1="425.60" y1="768.50" x2="425.60" y2="947.00" stroke="#000" stroke-width="2.00"/>
<line x1="424.60" y1="946.00" x2="673.50" y2="946.00" stroke="#000" stroke-width="2.00"/>
<line x1="423.60" y1="946.00" x2="425.60" y2="946.00" stroke="#000" stroke-width="1.60"/>
<line x1="423.60" y1="901.70" x2="425.60" y2="901.70" stroke="#000" stroke-width="1.60"/>
<line x1="423.60" y1="857.40" x2="425.60" y2="857.40" stroke="#000" stroke-width="1.60"/>
<line x1="423.60" y1="813.10" x2="425.60" y2="813.10" stroke="#000" stroke-width="1.60"/>
<line x1="423.60" y1="768.80" x2="425.60" y2="768.80" stroke="#000" stroke-width="1.60"/>
<text xml:space="preserve" transform="translate(406.34,778.07) scale(1.0079,1)" style="font-family:'Liberation Sans', sans-serif;font-weight:normal;font-size:13.00px;stroke:#000;stroke-width:0.50px;stroke-linejoin:round" fill="#000">80</text>
<text xml:space="preserve" transform="translate(406.24,822.17) scale(1.0153,1)" style="font-family:'Liberation Sans', sans-serif;font-weight:normal;font-size:13.00px;stroke:#000;stroke-width:0.49px;stroke-linejoin:round" fill="#000">60</text>
<text xml:space="preserve" transform="translate(406.71,866.77) scale(0.9636,1)" style="font-family:'Liberation Sans', sans-serif;font-weight:normal;font-size:13.14px;stroke:#000;stroke-width:0.52px;stroke-linejoin:round" fill="#000">40</text>
<text xml:space="preserve" transform="translate(406.35,910.77) scale(1.0003,1)" style="font-family:'Liberation Sans', sans-serif;font-weight:normal;font-size:13.00px;stroke:#000;stroke-width:0.50px;stroke-linejoin:round" fill="#000">20</text>
<text xml:space="preserve" transform="translate(410.39,954.88) scale(1.0389,1)" style="font-family:'Liberation Sans', sans-serif;font-weight:normal;font-size:12.30px;stroke:#000;stroke-width:0.48px;stroke-linejoin:round" fill="#000">0</text>
<line x1="463.40" y1="946.00" x2="463.40" y2="948.60" stroke="#000" stroke-width="2.40"/>
<line x1="513.00" y1="946.00" x2="513.00" y2="948.60" stroke="#000" stroke-width="2.40"/>
<line x1="562.60" y1="946.00" x2="562.60" y2="948.60" stroke="#000" stroke-width="2.40"/>
<line x1="612.20" y1="946.00" x2="612.20" y2="948.60" stroke="#000" stroke-width="2.40"/>
<line x1="661.80" y1="946.00" x2="661.80" y2="948.60" stroke="#000" stroke-width="2.40"/>
<text xml:space="preserve" transform="translate(459.23,960.60) scale(1.1071,1)" style="font-family:'Liberation Sans', sans-serif;font-weight:bold;font-size:12.04px" fill="#000">2</text>
<text xml:space="preserve" transform="translate(509.32,960.60) scale(0.9791,1)" style="font-family:'Liberation Sans', sans-serif;font-weight:bold;font-size:12.22px" fill="#000">4</text>
<text xml:space="preserve" transform="translate(558.29,960.48) scale(1.1521,1)" style="font-family:'Liberation Sans', sans-serif;font-weight:bold;font-size:11.87px" fill="#000">6</text>
<text xml:space="preserve" transform="translate(608.07,960.48) scale(1.1116,1)" style="font-family:'Liberation Sans', sans-serif;font-weight:bold;font-size:11.87px" fill="#000">8</text>
<text xml:space="preserve" transform="translate(656.77,960.48) scale(1.1119,1)" style="font-family:'Liberation Sans', sans-serif;font-weight:bold;font-size:11.87px" fill="#000">10</text>
<text xml:space="preserve" transform="translate(437.17,978.80) scale(0.9500,1)" style="font-family:'Liberation Sans', sans-serif;font-weight:bold;font-size:11.59px;letter-spacing:0.84px" fill="#000">Weeks after preconditioning</text>
<line x1="438.60" y1="838.60" x2="438.60" y2="861.60" stroke="#000" stroke-width="2.80"/>
<line x1="437.20" y1="839.60" x2="443.10" y2="839.60" stroke="#000" stroke-width="2.20"/>
<line x1="463.40" y1="873.00" x2="463.40" y2="887.20" stroke="#000" stroke-width="2.80"/>
<line x1="462.00" y1="874.00" x2="467.90" y2="874.00" stroke="#000" stroke-width="2.20"/>
<line x1="488.20" y1="868.00" x2="488.20" y2="882.60" stroke="#000" stroke-width="2.80"/>
<line x1="486.80" y1="869.00" x2="492.70" y2="869.00" stroke="#000" stroke-width="2.20"/>
<line x1="513.00" y1="892.40" x2="513.00" y2="904.40" stroke="#000" stroke-width="2.80"/>
<line x1="511.60" y1="893.40" x2="517.50" y2="893.40" stroke="#000" stroke-width="2.20"/>
<line x1="537.80" y1="894.00" x2="537.80" y2="903.00" stroke="#000" stroke-width="2.80"/>
<line x1="536.40" y1="895.00" x2="542.30" y2="895.00" stroke="#000" stroke-width="2.20"/>
<line x1="562.60" y1="905.00" x2="562.60" y2="912.40" stroke="#000" stroke-width="2.80"/>
<line x1="561.20" y1="906.00" x2="567.10" y2="906.00" stroke="#000" stroke-width="2.20"/>
<line x1="587.40" y1="921.00" x2="587.40" y2="926.00" stroke="#000" stroke-width="2.80"/>
<line x1="586.00" y1="922.00" x2="591.90" y2="922.00" stroke="#000" stroke-width="2.20"/>
<line x1="637.00" y1="916.80" x2="637.00" y2="928.70" stroke="#000" stroke-width="2.80"/>
<line x1="635.60" y1="917.80" x2="641.50" y2="917.80" stroke="#000" stroke-width="2.20"/>
<path d="M438.60,861.60 L463.40,887.20 L488.20,882.60 L513.00,904.40 L537.80,903.00 L562.60,912.40 L587.40,926.00 L612.20,930.60 L637.00,928.70 L661.80,944.40" fill="none" stroke="#000" stroke-width="2.00" stroke-linejoin="round" stroke-linecap="butt"/>
<circle cx="438.60" cy="861.60" r="2.6" fill="#000"/>
<circle cx="463.40" cy="887.20" r="2.6" fill="#000"/>
<circle cx="488.20" cy="882.60" r="2.6" fill="#000"/>
<circle cx="513.00" cy="904.40" r="2.6" fill="#000"/>
<circle cx="537.80" cy="903.00" r="2.6" fill="#000"/>
<circle cx="562.60" cy="912.40" r="2.6" fill="#000"/>
<circle cx="587.40" cy="926.00" r="2.6" fill="#000"/>
<circle cx="612.20" cy="930.60" r="2.6" fill="#000"/>
<circle cx="637.00" cy="928.70" r="2.6" fill="#000"/>
<circle cx="661.80" cy="944.40" r="2.6" fill="#000"/>
<line x1="438.60" y1="813.80" x2="438.60" y2="820.60" stroke="#999999" stroke-width="2.40"/>
<line x1="437.40" y1="814.80" x2="443.10" y2="814.80" stroke="#999999" stroke-width="2.20"/>
<line x1="488.20" y1="859.80" x2="488.20" y2="864.00" stroke="#999999" stroke-width="2.40"/>
<line x1="487.00" y1="860.80" x2="492.70" y2="860.80" stroke="#999999" stroke-width="2.20"/>
<line x1="513.00" y1="868.40" x2="513.00" y2="880.20" stroke="#999999" stroke-width="2.40"/>
<line x1="511.80" y1="869.40" x2="517.50" y2="869.40" stroke="#999999" stroke-width="2.20"/>
<line x1="537.80" y1="882.40" x2="537.80" y2="891.60" stroke="#999999" stroke-width="2.40"/>
<line x1="536.60" y1="883.40" x2="542.30" y2="883.40" stroke="#999999" stroke-width="2.20"/>
<line x1="562.60" y1="891.60" x2="562.60" y2="903.00" stroke="#999999" stroke-width="2.40"/>
<line x1="561.40" y1="892.60" x2="567.10" y2="892.60" stroke="#999999" stroke-width="2.20"/>
<line x1="587.40" y1="915.60" x2="587.40" y2="924.40" stroke="#999999" stroke-width="2.40"/>
<line x1="586.20" y1="916.60" x2="591.90" y2="916.60" stroke="#999999" stroke-width="2.20"/>
<line x1="612.20" y1="924.80" x2="612.20" y2="931.00" stroke="#999999" stroke-width="2.40"/>
<line x1="611.00" y1="925.80" x2="616.70" y2="925.80" stroke="#999999" stroke-width="2.20"/>
<path d="M438.60,820.60 L463.40,858.00 L488.20,864.00 L513.00,880.20 L537.80,891.60 L562.60,903.00 L587.40,924.40 L612.20,931.00 L637.00,932.90 L661.80,944.40" fill="none" stroke="#999999" stroke-width="2.00" stroke-linejoin="round" stroke-linecap="butt"/>
<rect x="436.60" y="818.60" width="4.00" height="4.00" fill="#999999"/>
<rect x="461.40" y="856.00" width="4.00" height="4.00" fill="#999999"/>
<rect x="486.20" y="862.00" width="4.00" height="4.00" fill="#999999"/>
<rect x="511.00" y="878.20" width="4.00" height="4.00" fill="#999999"/>
<rect x="535.80" y="889.60" width="4.00" height="4.00" fill="#999999"/>
<rect x="560.60" y="901.00" width="4.00" height="4.00" fill="#999999"/>
<rect x="585.40" y="922.40" width="4.00" height="4.00" fill="#999999"/>
<rect x="610.20" y="929.00" width="4.00" height="4.00" fill="#999999"/>
<rect x="635.00" y="930.90" width="4.00" height="4.00" fill="#999999"/>
<rect x="659.80" y="942.40" width="4.00" height="4.00" fill="#999999"/>
</svg>
</body></html>
